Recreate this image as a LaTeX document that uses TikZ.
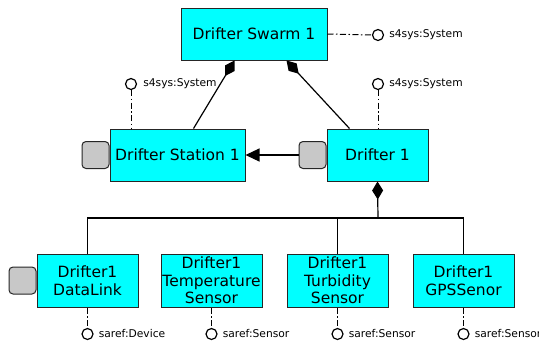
\documentclass[tikz,border=0pt]{standalone}
\usepackage{fontspec}
\setmainfont{DejaVu Sans}
\usetikzlibrary{arrows.meta,calc}
\definecolor{boxcyan}{RGB}{0,255,255}
\definecolor{portgrey}{RGB}{200,200,200}
\begin{document}
\begin{tikzpicture}[x=1pt,y=-1pt,
  block/.style={draw=black!85,fill=boxcyan,line width=1pt,inner sep=0pt,
    minimum height=52pt,align=center,font=\fontsize{15.5}{17.5}\selectfont},
  port/.style={draw=black!85,fill=portgrey,line width=1pt,rounded corners=4pt,
    minimum width=27pt,minimum height=27pt,inner sep=0pt},
  iface/.style={circle,draw=black,fill=white,line width=1.2pt,minimum size=11pt,inner sep=0pt},
  ilabel/.style={anchor=west,inner sep=0pt,font=\fontsize{10.7}{12}\selectfont},
  realize/.style={line width=1pt,dash pattern=on 6pt off 2.5pt on 1.5pt off 2.5pt},
  link/.style={line width=1.2pt},
  compose/.style={link,-{Diamond[length=18pt,width=11pt]}},
]
\useasboundingbox (0,0) rectangle (539,341);

% top level system
\node[block,minimum width=146pt] (swarm) at (254,34) {Drifter Swarm 1};
\node[iface] (swarmIf) at (378,35) {};
\node[ilabel] at ($(swarmIf.east)+(5,0)$) {s4sys:System};
\draw[realize] (swarm.east) -- (swarmIf.west);

% station and drifter
\node[block,minimum width=135pt] (station) at (177.5,155) {Drifter Station 1};
\node[port,anchor=east] (stationPort) at (station.west) {};
\node[block,minimum width=101pt] (drifter) at (377.5,155) {Drifter 1};
\node[port,anchor=east] (drifterPort) at (drifter.west) {};

\node[iface] (stationIf) at (131,84) {};
\node[ilabel] at ($(stationIf.east)+(6,0)$) {s4sys:System};
\draw[realize] (stationIf.south) -- (stationIf.south |- station.north);
\node[iface] (drifterIf) at (378,84) {};
\node[ilabel] at ($(drifterIf.east)+(5,0)$) {s4sys:System};
\draw[realize] (drifterIf.south) -- (drifterIf.south |- drifter.north);

% composition into the swarm
\coordinate (swarmL) at ($(swarm.south west)+(54,0)$);
\coordinate (swarmR) at ($(swarm.south west)+(106,0)$);
\draw[compose] ($(station.north west)+(84,0)$) -- (swarmL);
\draw[compose] ($(drifter.north west)+(23,0)$) -- (swarmR);

% drifter talks to station
\draw[link,-{Triangle[length=14pt,width=13pt]}] (drifterPort.west) -- (station.east);

% components of the drifter
\node[block,minimum width=101pt,minimum height=53pt] (datalink) at (87.5,280.5) {Drifter1\\DataLink};
\node[port,anchor=east] (datalinkPort) at (datalink.west) {};
\node[block,minimum width=101pt,minimum height=53pt] (temp) at (211.5,280.5) {Drifter1\\Temperature\\Sensor};
\node[block,minimum width=101pt,minimum height=53pt] (turb) at (337.5,280.5) {Drifter1\\Turbidity\\Sensor};
\node[block,minimum width=101pt,minimum height=53pt] (gps) at (463.5,280.5) {Drifter1\\GPSSenor};

\coordinate (bus) at (378,218);
\draw[compose] (bus) -- (drifter.south);
\draw[link] (datalink.north) -- (datalink.north |- bus) -- (gps.north |- bus) -- (gps.north);
\draw[link] ($(temp.north)+(12.5,0)$) -- ($(temp.north)+(12.5,0)$ |- bus);
\draw[link] (turb.north) -- (turb.north |- bus);

% component interfaces
\foreach \n/\lbl in {datalink/saref:Device,temp/saref:Sensor,turb/saref:Sensor,gps/saref:Sensor}{
  \node[iface] (\n If) at ($(\n.south)+(0,26.5)$) {};
  \node[ilabel] at ($(\n If.east)+(5,0)$) {\lbl};
  \draw[realize] (\n.south) -- (\n If.north);
}
\end{tikzpicture}
\end{document}
